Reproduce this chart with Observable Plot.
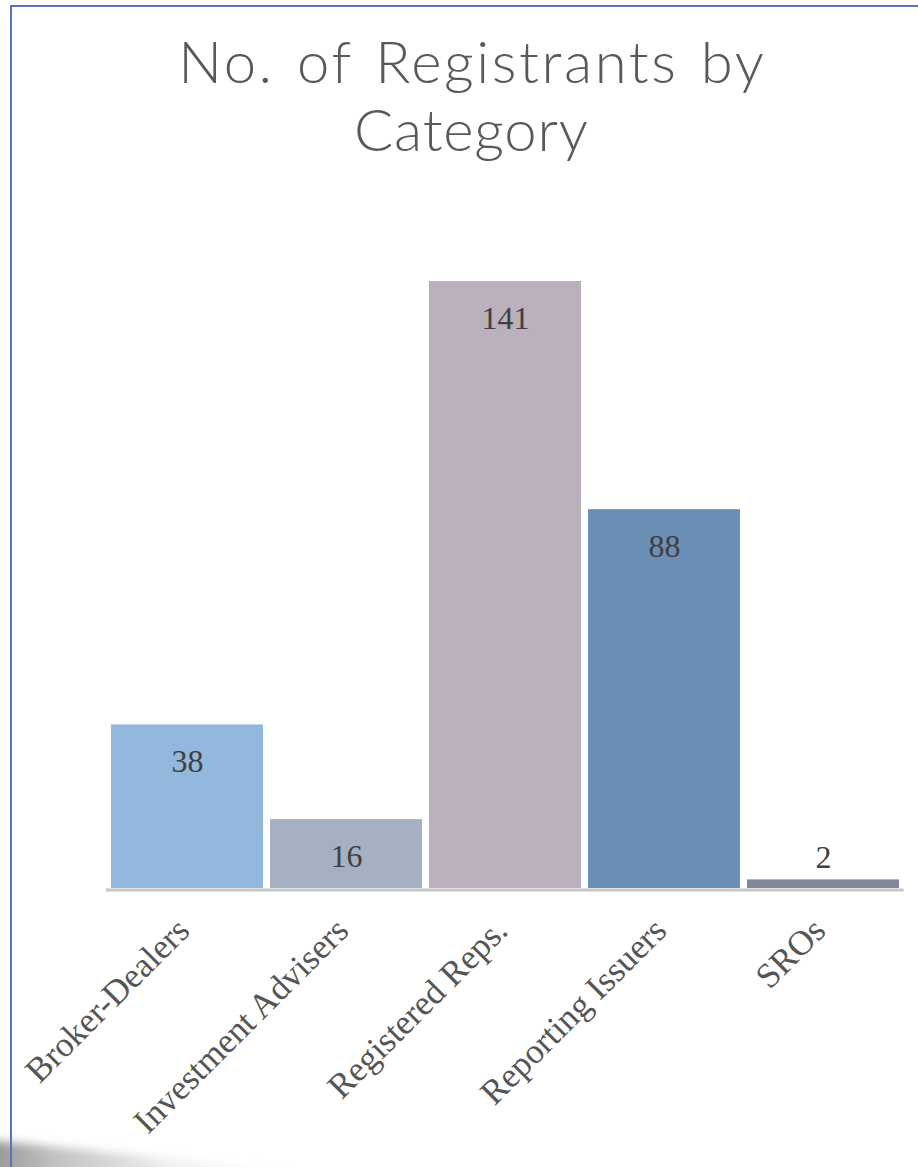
<!DOCTYPE html>
<html><head><meta charset="utf-8">
<script src="https://cdn.jsdelivr.net/npm/d3@7"></script>
<script src="https://cdn.jsdelivr.net/npm/@observablehq/plot@0.6"></script>
<style>
html,body{margin:0;padding:0;background:#fff;}
#wrap{position:relative;width:918px;height:1167px;overflow:hidden;background:#fff;}
#smudge{position:absolute;left:-30px;top:1138px;width:330px;height:40px;transform:rotate(6deg);transform-origin:left center;background:linear-gradient(to right,rgba(95,95,95,0.75) 0%,rgba(130,130,130,0.5) 25%,rgba(190,190,190,0.25) 60%,rgba(255,255,255,0) 100%);filter:blur(5px);}
#frame{position:absolute;left:10px;top:5px;right:-10px;bottom:-10px;border-left:2px solid #5b73b7;border-top:2px solid #5b73b7;}
#title{position:absolute;top:27px;left:471px;transform:translateX(-50%);text-align:center;font-family:Lato,"Open Sans",sans-serif;font-weight:300;font-size:58px;line-height:68px;color:#595959;white-space:nowrap;}
#title .l1{letter-spacing:2.6px;word-spacing:4px;margin-right:-2.6px;}
#title .l2{letter-spacing:0.8px;margin-right:-0.8px;}
#chart{position:absolute;left:0;top:0;}
</style>
</head><body>
<div id="wrap">
<div id="smudge"></div>
<div id="chart"></div>
<div id="frame"></div>
<div id="title"><span class="l1">No. of Registrants by</span><br><span class="l2">Category</span></div>
</div>
<script>
const categories = ["Broker-Dealers","Investment Advisers","Registered Reps.","Reporting Issuers","SROs"];
const counts = [38,16,141,88,2];
const colors = ["#93b8dd","#a5b0c3","#bbb0be","#6a8fb4","#7e8898"];

const data = categories.map((c,i)=>({category:c,count:counts[i]}));
const serif = "'Palatino Linotype','Book Antiqua',Palatino,'Liberation Serif',serif";

const chart = Plot.plot({
  width:918, height:1167,
  marginLeft:106, marginRight:14.5, marginTop:281, marginBottom:279,
  style:{background:"transparent", fontFamily:serif, overflow:"visible"},
  x:{domain:categories, paddingInner:0.044, paddingOuter:0.022, axis:null},
  y:{domain:[0,141], axis:null},
  color:{domain:categories, range:colors},
  marks:[
    Plot.barY(data,{x:"category",y:"count",fill:"category"}),
    Plot.ruleY([0],{stroke:"#c6c6c6",strokeWidth:3,dy:1.5}),
    Plot.text(data.filter(d=>d.count>=10),{x:"category",y:"count",text:d=>String(d.count),dy:37,fontSize:32,fill:"#404040",fontFamily:serif}),
    Plot.text(data.filter(d=>d.count<10),{x:"category",y:"count",text:d=>String(d.count),dy:-22,fontSize:32,fill:"#404040",fontFamily:serif}),
    Plot.text(data,{x:"category",frameAnchor:"bottom",text:"category",rotate:-45,textAnchor:"end",dx:4,dy:44,fontSize:35,fill:"#555555",fontFamily:serif})
  ]
});
document.getElementById("chart").appendChild(chart);
</script>
</body></html>
